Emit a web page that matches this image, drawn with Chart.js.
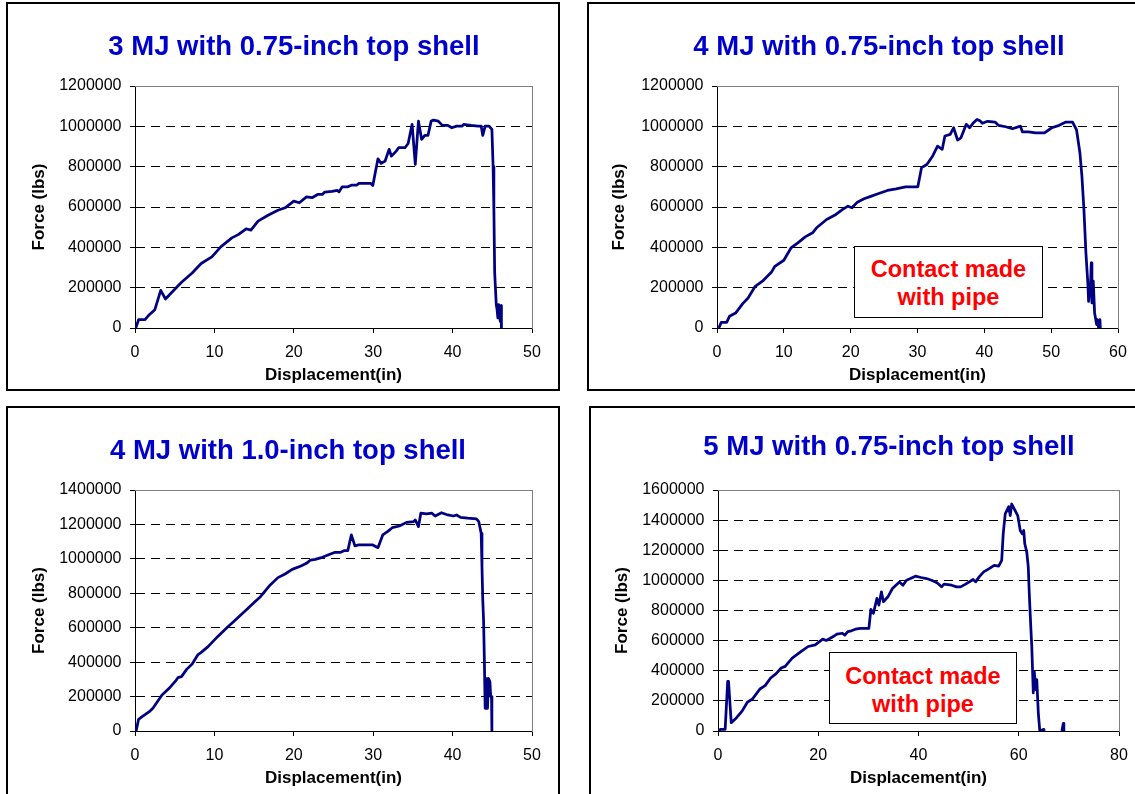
<!DOCTYPE html>
<html>
<head>
<meta charset="utf-8">
<script src="https://cdn.jsdelivr.net/npm/chart.js@4.4.1/dist/chart.umd.min.js"></script>
<style>
html,body{margin:0;padding:0;background:#fff;width:1135px;height:794px;overflow:hidden;position:relative;font-family:"Liberation Sans",Arial,sans-serif;}
.panel{position:absolute;box-sizing:border-box;border:2px solid #000;z-index:3;pointer-events:none;}
canvas{position:absolute;z-index:1;}
.ttl{position:absolute;font-weight:bold;font-size:27.5px;color:#0000CC;white-space:nowrap;transform:translate(-50%,-50%);line-height:1;z-index:2;}
.note{position:absolute;box-sizing:border-box;border:1.5px solid #000;background:#fff;color:#FF0000;font-weight:bold;font-size:23.5px;text-align:center;line-height:28px;z-index:2;}
</style>
</head>
<body>
<canvas id="c1" width="554" height="389" style="left:6px;top:2px"></canvas>
<canvas id="c2" width="560" height="389" style="left:587px;top:2px"></canvas>
<canvas id="c3" width="554" height="400" style="left:6px;top:406px"></canvas>
<canvas id="c4" width="560" height="400" style="left:589px;top:406px"></canvas>
<div class="panel" style="left:6px;top:2px;width:554px;height:389px"></div>
<div class="panel" style="left:587px;top:2px;width:560px;height:389px"></div>
<div class="panel" style="left:6px;top:406px;width:554px;height:400px"></div>
<div class="panel" style="left:589px;top:406px;width:560px;height:400px"></div>
<div class="ttl" style="left:294px;top:46px">3 MJ with 0.75-inch top shell</div>
<div class="ttl" style="left:879px;top:46px">4 MJ with 0.75-inch top shell</div>
<div class="ttl" style="left:288px;top:450px">4 MJ with 1.0-inch top shell</div>
<div class="ttl" style="left:889px;top:446px">5 MJ with 0.75-inch top shell</div>
<div class="note" style="left:854px;top:246px;width:189px;height:72px;padding-top:8px">Contact made<br>with pipe</div>
<div class="note" style="left:829px;top:652px;width:188px;height:72px;padding-top:9px">Contact made<br>with pipe</div>
<script>
// ---- Panel 1: 3 MJ with 0.75-inch top shell ----
const disp1 = [0.1,0.45,1.26,1.8,2.5,3.24,3.83,4.95,5.86,7.2,8.33,9.68,10.8,12.2,13.0,14.0,14.6,15.5,16.7,18.0,18.9,20.0,20.7,21.6,22.3,23.0,23.6,23.9,24.8,25.5,25.7,26.1,26.8,27.25,27.9,28.2,29.7,29.95,30.6,31.0,31.5,32.0,32.3,32.9,33.2,34.0,34.4,34.9,35.3,35.7,36.1,36.5,36.9,37.3,37.6,38.2,38.7,39.4,39.9,40.5,41.2,41.4,42.3,43.2,43.6,43.8,44.1,44.6,44.95,45.1,45.2,45.3,45.5,45.6,45.7,45.8,46.0,46.1,46.15];
const force1 = [0,41000,41000,66000,91000,187000,144000,190000,227000,273000,320000,353000,402000,447000,463000,492000,485000,530000,558000,584000,596000,629000,621000,650000,646000,662000,662000,674000,677000,682000,675000,700000,700000,708000,708000,717000,717000,707000,839000,816000,828000,886000,852000,877000,894000,894000,915000,1010000,811000,1026000,935000,955000,955000,1026000,1031000,1026000,1005000,1005000,993000,1001000,1001000,1010000,1005000,1001000,1001000,955000,1001000,1001000,985000,800000,586000,274000,115000,91000,50000,116000,33000,111000,0];
const xTicks1 = [0,10,20,30,40,50];
const yTicks1 = [0,200000,400000,600000,800000,1000000,1200000];

// ---- Panel 2: 4 MJ with 0.75-inch top shell ----
const disp2 = [0.27,0.64,1.44,1.87,2.78,3.85,4.65,5.72,6.8,8.13,8.66,10.0,11.07,12.1,13.2,14.3,14.9,16.4,17.8,18.8,19.6,20.2,21.0,22.0,23.1,24.2,25.5,26.8,28.2,30.05,30.6,31.4,32.2,33.0,33.7,34.1,34.9,35.4,36.0,36.5,37.3,37.8,38.3,38.9,39.4,39.7,40.5,41.6,42.1,43.2,44.2,45.4,45.7,46.6,47.7,49.0,50.1,51.2,52.2,53.2,53.8,54.3,54.6,54.9,55.2,55.5,55.6,55.9,56.0,56.1,56.3,56.5,56.8,56.9,57.1,57.3,57.35];
const force2 = [0,28000,28000,58000,74000,121000,149000,207000,232000,276000,306000,336000,397000,422000,452000,472000,497000,538000,563000,588000,604000,596000,624000,641000,654000,667000,682000,690000,700000,700000,795000,811000,849000,902000,886000,952000,960000,993000,932000,943000,1010000,993000,1015000,1034000,1026000,1015000,1025000,1021000,1005000,998000,988000,1001000,972000,972000,968000,968000,993000,1005000,1021000,1021000,982000,869000,753000,588000,372000,215000,132000,223000,323000,124000,232000,74000,17000,41000,0,41000,0];
const xTicks2 = [0,10,20,30,40,50,60];
const yTicks2 = [0,200000,400000,600000,800000,1000000,1200000];

// ---- Panel 3: 4 MJ with 1.0-inch top shell ----
const disp3 = [0.14,0.45,0.9,1.8,2.25,3.4,4.3,5.2,5.4,5.86,6.5,7.2,7.9,8.3,9.2,10.4,11.7,12.4,14.0,15.1,15.8,16.9,18.0,18.9,19.8,20.9,21.6,22.1,22.7,23.6,24.3,25.2,25.9,26.4,26.8,27.25,27.7,28.15,29.95,30.6,31.2,31.8,32.4,33.3,34.2,35.1,35.3,35.7,36.0,36.7,37.4,37.8,38.6,39.4,40.1,40.5,41.0,41.9,43.0,43.3,43.6,43.7,43.8,43.9,44.0,44.1,44.2,44.4,44.5,44.7,44.8,44.9,44.95];
const force3 = [0,68000,83000,112000,132000,209000,248000,296000,310000,316000,358000,389000,442000,455000,490000,548000,606000,635000,703000,751000,780000,842000,891000,912000,939000,959000,974000,993000,997000,1009000,1022000,1038000,1038000,1048000,1048000,1139000,1075000,1081000,1081000,1065000,1139000,1158000,1181000,1191000,1212000,1216000,1226000,1187000,1265000,1261000,1265000,1249000,1268000,1255000,1249000,1255000,1241000,1236000,1232000,1216000,1148000,955000,761000,645000,412000,132000,306000,132000,306000,287000,200000,200000,0];
const xTicks3 = [0,10,20,30,40,50];
const yTicks3 = [0,200000,400000,600000,800000,1000000,1200000,1400000];

// ---- Panel 4: 5 MJ with 0.75-inch top shell ----
const disp4 = [0.14,0.5,1.43,1.93,2.1,2.64,3.7,4.8,5.86,6.9,8.36,9.4,10.5,11.6,12.6,13.4,14.8,16.6,18.0,19.4,20.9,21.6,23.0,23.7,24.8,25.3,25.9,26.6,27.4,28.4,30.1,30.5,31.0,31.7,32.1,32.6,33.0,33.9,34.8,36.2,36.9,37.6,38.4,39.4,40.5,41.6,42.6,43.7,44.6,45.1,46.6,47.6,48.4,49.4,50.9,51.4,52.1,53.0,54.1,55.1,56.0,56.6,56.9,57.3,58.0,58.3,58.6,59.1,59.8,60.3,60.7,61.0,61.2,61.6,61.9,62.1,62.4,62.6,62.9,63.1,63.4,63.6,63.9,64.2,65.0,65.1,67.0,68.6,68.9,69.0];
const force4 = [0,11000,11000,330000,330000,55000,88000,132000,191000,213000,279000,301000,352000,381000,418000,429000,484000,528000,561000,572000,610000,601000,627000,643000,649000,636000,660000,665000,676000,682000,682000,807000,781000,880000,836000,924000,858000,891000,946000,990000,968000,1001000,1012000,1028000,1019000,1012000,1001000,984000,957000,975000,968000,957000,957000,975000,1006000,990000,1023000,1056000,1078000,1100000,1094000,1133000,1309000,1441000,1490000,1430000,1507000,1474000,1430000,1331000,1309000,1331000,1243000,1188000,1089000,913000,693000,561000,253000,396000,275000,341000,121000,0,11000,0,null,0,51000,0];
const xTicks4 = [0,20,40,60,80];
const yTicks4 = [0,200000,400000,600000,800000,1000000,1200000,1400000,1600000];

const FAM = '"Liberation Sans", Arial, sans-serif';

function build(id, disp, force, xTicks, yTicks, lay) {
  const pts = disp.map((x, i) => ({x: x, y: force[i]}));
  const xMax = xTicks[xTicks.length - 1];
  const yMax = yTicks[yTicks.length - 1];
  return new Chart(document.getElementById(id), {
    type: 'line',
    data: {datasets: [{data: pts, borderColor: '#000080', borderWidth: 2.75, pointRadius: 0,
      tension: 0, fill: false, spanGaps: false, borderJoinStyle: 'round'}]},
    options: {
      responsive: false, maintainAspectRatio: false, animation: false, devicePixelRatio: 1,
      layout: {padding: {left: 0, top: 84, right: lay.pr, bottom: lay.pb}},
      plugins: {legend: {display: false}, tooltip: {enabled: false}, title: {display: false}},
      scales: {
        x: {
          type: 'linear', position: 'bottom', min: 0, max: xMax,
          afterBuildTicks: s => { s.ticks = xTicks.map(v => ({value: v})); },
          afterFit: s => { s.height = 63; },
          ticks: {color: '#000', font: {family: FAM, size: 16}, padding: 10, maxRotation: 0, autoSkip: false,
            callback: v => String(v)},
          grid: {drawOnChartArea: false, drawTicks: true, tickLength: 5, color: '#000', tickColor: '#000'},
          border: {color: '#000', width: 1},
          title: {display: true, text: 'Displacement(in)', color: '#000',
            font: {family: FAM, size: 17, weight: 'bold'}, padding: {top: 0, bottom: 5}}
        },
        y: {
          type: 'linear', position: 'left', min: 0, max: yMax,
          afterBuildTicks: s => { s.ticks = yTicks.map(v => ({value: v})); },
          afterFit: s => { s.width = lay.wy; },
          ticks: {color: '#000', font: {family: FAM, size: 16}, padding: 8.5, autoSkip: false,
            callback: v => String(v)},
          grid: {drawOnChartArea: true, drawTicks: true, tickLength: 5, tickColor: '#000',
            color: c => (c.tick && (c.tick.value === yMax || c.tick.value === 0)) ? 'rgba(0,0,0,0)' : '#000',
            lineWidth: 1},
          border: {color: '#000', width: 1, dash: [9, 6]},
          title: {display: true, text: 'Force (lbs)', color: '#000',
            font: {family: FAM, size: 17, weight: 'bold'}, padding: {top: lay.yt, bottom: 0}}
        },
        xTop: {
          type: 'linear', position: 'top', min: 0, max: xMax,
          afterFit: s => { s.height = 0; },
          ticks: {display: false}, grid: {display: false, drawTicks: false},
          border: {display: true, color: '#808080', width: 1}
        },
        yRight: {
          type: 'linear', position: 'right', min: 0, max: yMax,
          afterFit: s => { s.width = 0; },
          ticks: {display: false}, grid: {display: false, drawTicks: false},
          border: {display: true, color: '#808080', width: 1}
        }
      }
    }
  });
}

build('c1', disp1, force1, xTicks1, yTicks1, {wy: 129, pr: 28, pb: 0, yt: 23.5});
build('c2', disp2, force2, xTicks2, yTicks2, {wy: 130, pr: 29, pb: 0, yt: 22.5});
build('c3', disp3, force3, xTicks3, yTicks3, {wy: 129, pr: 28, pb: 12, yt: 23.5});
build('c4', disp4, force4, xTicks4, yTicks4, {wy: 129, pr: 30, pb: 12, yt: 23});
</script>
</body>
</html>
